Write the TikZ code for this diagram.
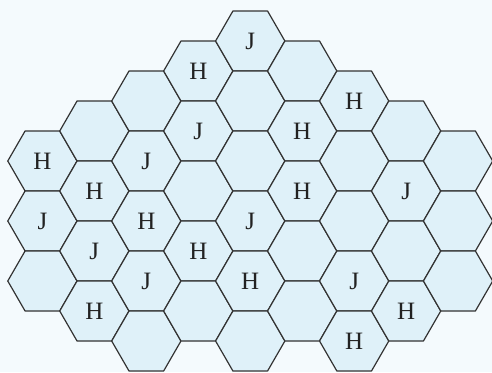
\documentclass[tikz,border=0pt]{standalone}
\usepackage{fontspec}
\setmainfont{Liberation Serif}
\usetikzlibrary{shapes.geometric}
\definecolor{bgc}{HTML}{F4FAFD}
\definecolor{hexfill}{HTML}{DFF1F9}
\definecolor{hexline}{HTML}{333333}
\definecolor{txt}{HTML}{222222}
\tikzset{
  hexcell/.style={regular polygon, regular polygon sides=6, minimum size=69.28pt,
    inner sep=0pt, outer sep=0pt, draw=hexline, fill=hexfill, line width=1.2pt,
    line join=round, text=txt, font=\fontsize{25}{28}\selectfont,
    text height=17.5pt, text depth=0pt}
}
\begin{document}
\begin{tikzpicture}[x=1pt,y=-1pt]
\useasboundingbox (0,0) rectangle (492,372);
\fill[bgc] (0,0) rectangle (492,372);
\foreach \c/\m/\t in {
  0/4/H, 0/6/J, 0/8/{},
  1/3/{}, 1/5/H, 1/7/J, 1/9/H,
  2/2/{}, 2/4/J, 2/6/H, 2/8/J, 2/10/{},
  3/1/H, 3/3/J, 3/5/{}, 3/7/H, 3/9/{},
  4/0/J, 4/2/{}, 4/4/{}, 4/6/J, 4/8/H, 4/10/{},
  5/1/{}, 5/3/H, 5/5/H, 5/7/{}, 5/9/{},
  6/2/H, 6/4/{}, 6/6/{}, 6/8/J, 6/10/H,
  7/3/{}, 7/5/J, 7/7/{}, 7/9/H,
  8/4/{}, 8/6/{}, 8/8/{}}
  \node[hexcell] (h\c-\m) at ({42.4+51.96*\c},{41+30*\m}) {\t};
\end{tikzpicture}
\end{document}
